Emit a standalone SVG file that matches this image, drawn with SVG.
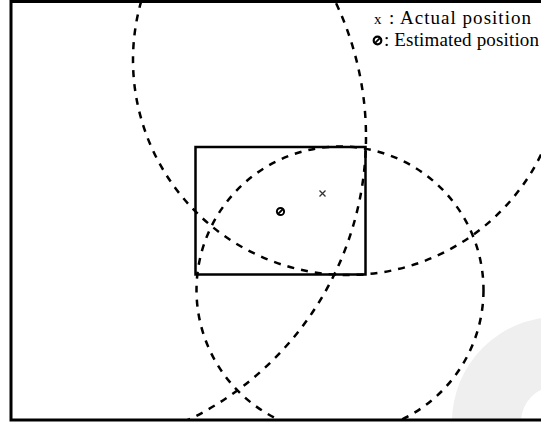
<svg xmlns="http://www.w3.org/2000/svg" width="541" height="426" viewBox="0 0 541 426">
<style>
.circ{fill:none;stroke:#000;stroke-width:2.5;stroke-dasharray:7 7}
.lbl{font-family:"Liberation Serif","Times New Roman",serif;font-size:19px;fill:#000}
</style>
<defs>
<clipPath id="frameclip"><rect x="11" y="1.5" width="530" height="418.5"/></clipPath>
</defs>
<rect x="0" y="0" width="541" height="426" fill="#fff"/>
<g id="watermark" clip-path="url(#frameclip)">
<path d="M452,422 A105,105 0 0 1 557,317 L557,386 A36,36 0 0 0 521,422 Z" fill="#efefef"/>
</g>
<g id="connectors" clip-path="url(#frameclip)">
<circle class="circ" cx="348" cy="60" r="215"/>
<circle class="circ" cx="340" cy="290" r="143.5"/>
<circle class="circ" cx="52" cy="137" r="314"/>
</g>
<g id="frame">
<rect x="11" y="1.5" width="540" height="418.5" fill="none" stroke="#000" stroke-width="3"/>
</g>
<g id="region">
<rect x="195.5" y="147" width="170" height="127.5" fill="none" stroke="#000" stroke-width="2.5"/>
</g>
<g id="actual">
<path d="M319.5,190.5 L325.5,196.5 M325.5,190.5 L319.5,196.5" stroke="#333" stroke-width="1.3"/>
</g>
<g id="estimated">
<circle cx="280.5" cy="211.5" r="3.6" fill="none" stroke="#000" stroke-width="2"/>
<line x1="278" y1="214" x2="283" y2="209" stroke="#000" stroke-width="1.8"/>
</g>
<g id="legend">
<text class="lbl" x="374" y="24" style="font-size:15px">x</text>
<text class="lbl" x="389" y="24" textLength="142" lengthAdjust="spacing">: Actual position</text>
<circle cx="377.5" cy="40.5" r="3.8" fill="none" stroke="#000" stroke-width="2.2"/>
<line x1="375.2" y1="42.8" x2="379.8" y2="38.2" stroke="#000" stroke-width="1.8"/>
<text class="lbl" x="384" y="46" textLength="155" lengthAdjust="spacing">: Estimated position</text>
</g>
</svg>
